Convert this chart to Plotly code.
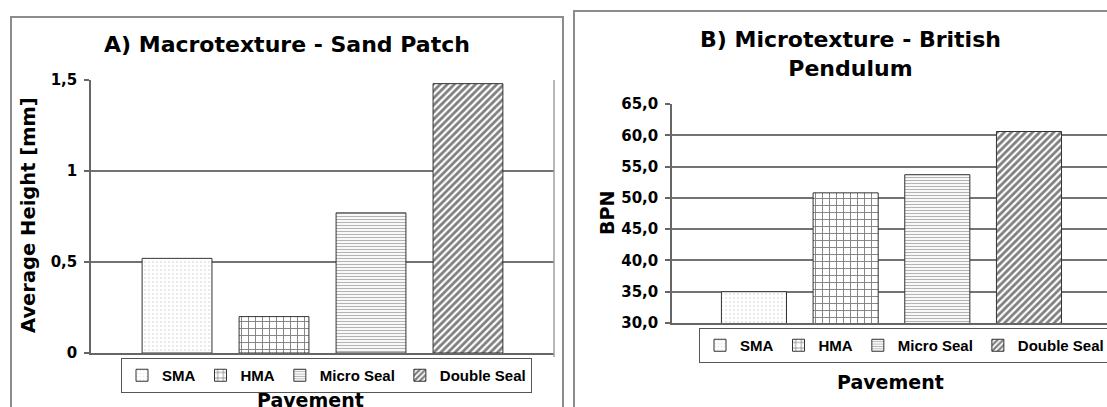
import plotly.graph_objects as go

# ---------------- data ----------------
categories = ["SMA", "HMA", "Micro Seal", "Double Seal"]
macro_values = [0.52, 0.20, 0.77, 1.48]
bpn_values = [35.0, 50.8, 53.7, 60.6]

macro_tickvals = [0, 0.5, 1, 1.5]
macro_ticktext = ["0", "0,5", "1", "1,5"]
bpn_tickvals = [30, 35, 40, 45, 50, 55, 60, 65]
bpn_ticktext = ["30,0", "35,0", "40,0", "45,0", "50,0", "55,0", "60,0", "65,0"]

title_a = "A) Macrotexture - Sand Patch"
title_b = "B) Microtexture - British<br>Pendulum"
ytitle_a = "Average Height [mm]"
ytitle_b = "BPN"
xtitle = "Pavement"

# ---------------- styles ----------------
W, H = 1107, 407
def px(x):
    return x / W
def py(y):
    return 1 - y / H

patterns = [
    dict(shape=".", fgcolor="#9a9a9a", bgcolor="white", size=4, solidity=0.12),
    dict(shape="+", fgcolor="#000000", bgcolor="white", size=7, solidity=0.25),
    dict(shape="-", fgcolor="#6a6a6a", bgcolor="white", size=3, solidity=0.4),
    dict(shape="/", fgcolor="#000000", bgcolor="white", size=5, solidity=0.55),
]

TFONT = dict(family="DejaVu Sans", size=22, color="black", weight="bold")
AFONT = dict(family="DejaVu Sans", size=19, color="black", weight="bold")
YAFONT = dict(family="DejaVu Sans", size=19.5, color="black", weight="bold")
TKFONT = dict(family="DejaVu Sans", size=15, color="black", weight="bold")
LFONT = dict(family="Liberation Sans", size=15, color="black", weight="bold")

fig = go.Figure()

for i, (cat, v) in enumerate(zip(categories, macro_values)):
    fig.add_trace(go.Bar(
        x=[i], y=[v], name=cat, width=0.72,
        marker=dict(color="white", pattern=patterns[i],
                    line=dict(color="#333333", width=1)),
        xaxis="x", yaxis="y", legend="legend",
    ))

for i, (cat, v) in enumerate(zip(categories, bpn_values)):
    fig.add_trace(go.Bar(
        x=[i], y=[v], name=cat, width=0.71,
        marker=dict(color="white", pattern=patterns[i],
                    line=dict(color="#333333", width=1)),
        xaxis="x2", yaxis="y2", legend="legend2",
    ))

grid = "#737373"
axline = "#666666"

fig.update_layout(
    width=W, height=H, autosize=False,
    margin=dict(l=0, r=0, t=0, b=0, pad=0, autoexpand=False),
    paper_bgcolor="white", plot_bgcolor="white",
    barmode="overlay",
    xaxis=dict(domain=[px(91), px(554)], range=[-0.887, 3.887],
               showticklabels=False, showgrid=False, zeroline=False,
               showline=True, linecolor=axline, linewidth=1.5,
               anchor="y", automargin=False),
    yaxis=dict(domain=[py(353), py(80)], range=[0, 1.5],
               tickvals=macro_tickvals, ticktext=macro_ticktext,
               tickfont=TKFONT, showgrid=True, gridcolor=grid, gridwidth=1.5,
               zeroline=False, showline=True, linecolor=axline, linewidth=1.5,
               ticks="outside", ticklen=5, tickcolor=axline, tickwidth=1.5,
               ticklabelstandoff=4, anchor="x", automargin=False),
    xaxis2=dict(domain=[px(672), 1.0], range=[-0.894, 3.851],
                showticklabels=False, showgrid=False, zeroline=False,
                showline=True, linecolor=axline, linewidth=1.5,
                anchor="y2", automargin=False),
    yaxis2=dict(domain=[py(323), py(104)], range=[30, 65],
                tickvals=bpn_tickvals, ticktext=bpn_ticktext,
                tickfont=TKFONT, showgrid=True, gridcolor=grid, gridwidth=1.5,
                zeroline=False, showline=True, linecolor=axline, linewidth=1.5,
                ticks="outside", ticklen=5, tickcolor=axline, tickwidth=1.5,
                ticklabelstandoff=4, anchor="x2", automargin=False),
    legend=dict(orientation="h", x=px(121), y=py(358), xanchor="left", yanchor="top",
                bordercolor="#555555", borderwidth=1, font=LFONT,
                itemwidth=30, bgcolor="white", tracegroupgap=0),
    legend2=dict(orientation="h", x=px(699), y=py(328), xanchor="left", yanchor="top",
                 bordercolor="#555555", borderwidth=1, font=LFONT,
                 itemwidth=30, bgcolor="white", tracegroupgap=0),
    showlegend=True,
)

# panel borders (cropped at the picture's edges) and plot-area right edge
fig.add_shape(type="path", xref="paper", yref="paper",
              path=f"M {px(11)},{py(407)} L {px(11)},{py(17)} L {px(563)},{py(17)} L {px(563)},{py(407)}",
              line=dict(color="#8c8c8c", width=2))
fig.add_shape(type="path", xref="paper", yref="paper",
              path=f"M {px(574)},{py(407)} L {px(574)},{py(11)} L {px(1107)},{py(11)}",
              line=dict(color="#8c8c8c", width=2))
fig.add_shape(type="line", xref="paper", yref="paper",
              x0=px(554), x1=px(554), y0=py(357), y1=py(80),
              line=dict(color="#a0a0a0", width=1.5))

# titles
fig.add_annotation(text=title_a, x=px(287), y=py(45), xref="paper", yref="paper",
                   showarrow=False, font=TFONT, xanchor="center", yanchor="middle")
fig.add_annotation(text=title_b, x=px(850), y=py(54), xref="paper", yref="paper",
                   showarrow=False, font=TFONT, xanchor="center", yanchor="middle")
# axis titles
fig.add_annotation(text=ytitle_a, x=px(28), y=py(215), xref="paper", yref="paper",
                   showarrow=False, font=YAFONT, textangle=-90,
                   xanchor="center", yanchor="middle")
fig.add_annotation(text=ytitle_b, x=px(607), y=py(213), xref="paper", yref="paper",
                   showarrow=False, font=AFONT, textangle=-90,
                   xanchor="center", yanchor="middle")
fig.add_annotation(text=xtitle, x=px(310), y=py(400), xref="paper", yref="paper",
                   showarrow=False, font=AFONT, xanchor="center", yanchor="middle")
fig.add_annotation(text=xtitle, x=px(890), y=py(382), xref="paper", yref="paper",
                   showarrow=False, font=AFONT, xanchor="center", yanchor="middle")

fig.write_html(
    "out.html",
    config={"displayModeBar": False, "responsive": False},
    post_script=("document.body.style.margin='0';"
                 "document.body.style.overflow='hidden';"
                 "document.getElementById('{plot_id}').style.overflow='hidden';"),
)
